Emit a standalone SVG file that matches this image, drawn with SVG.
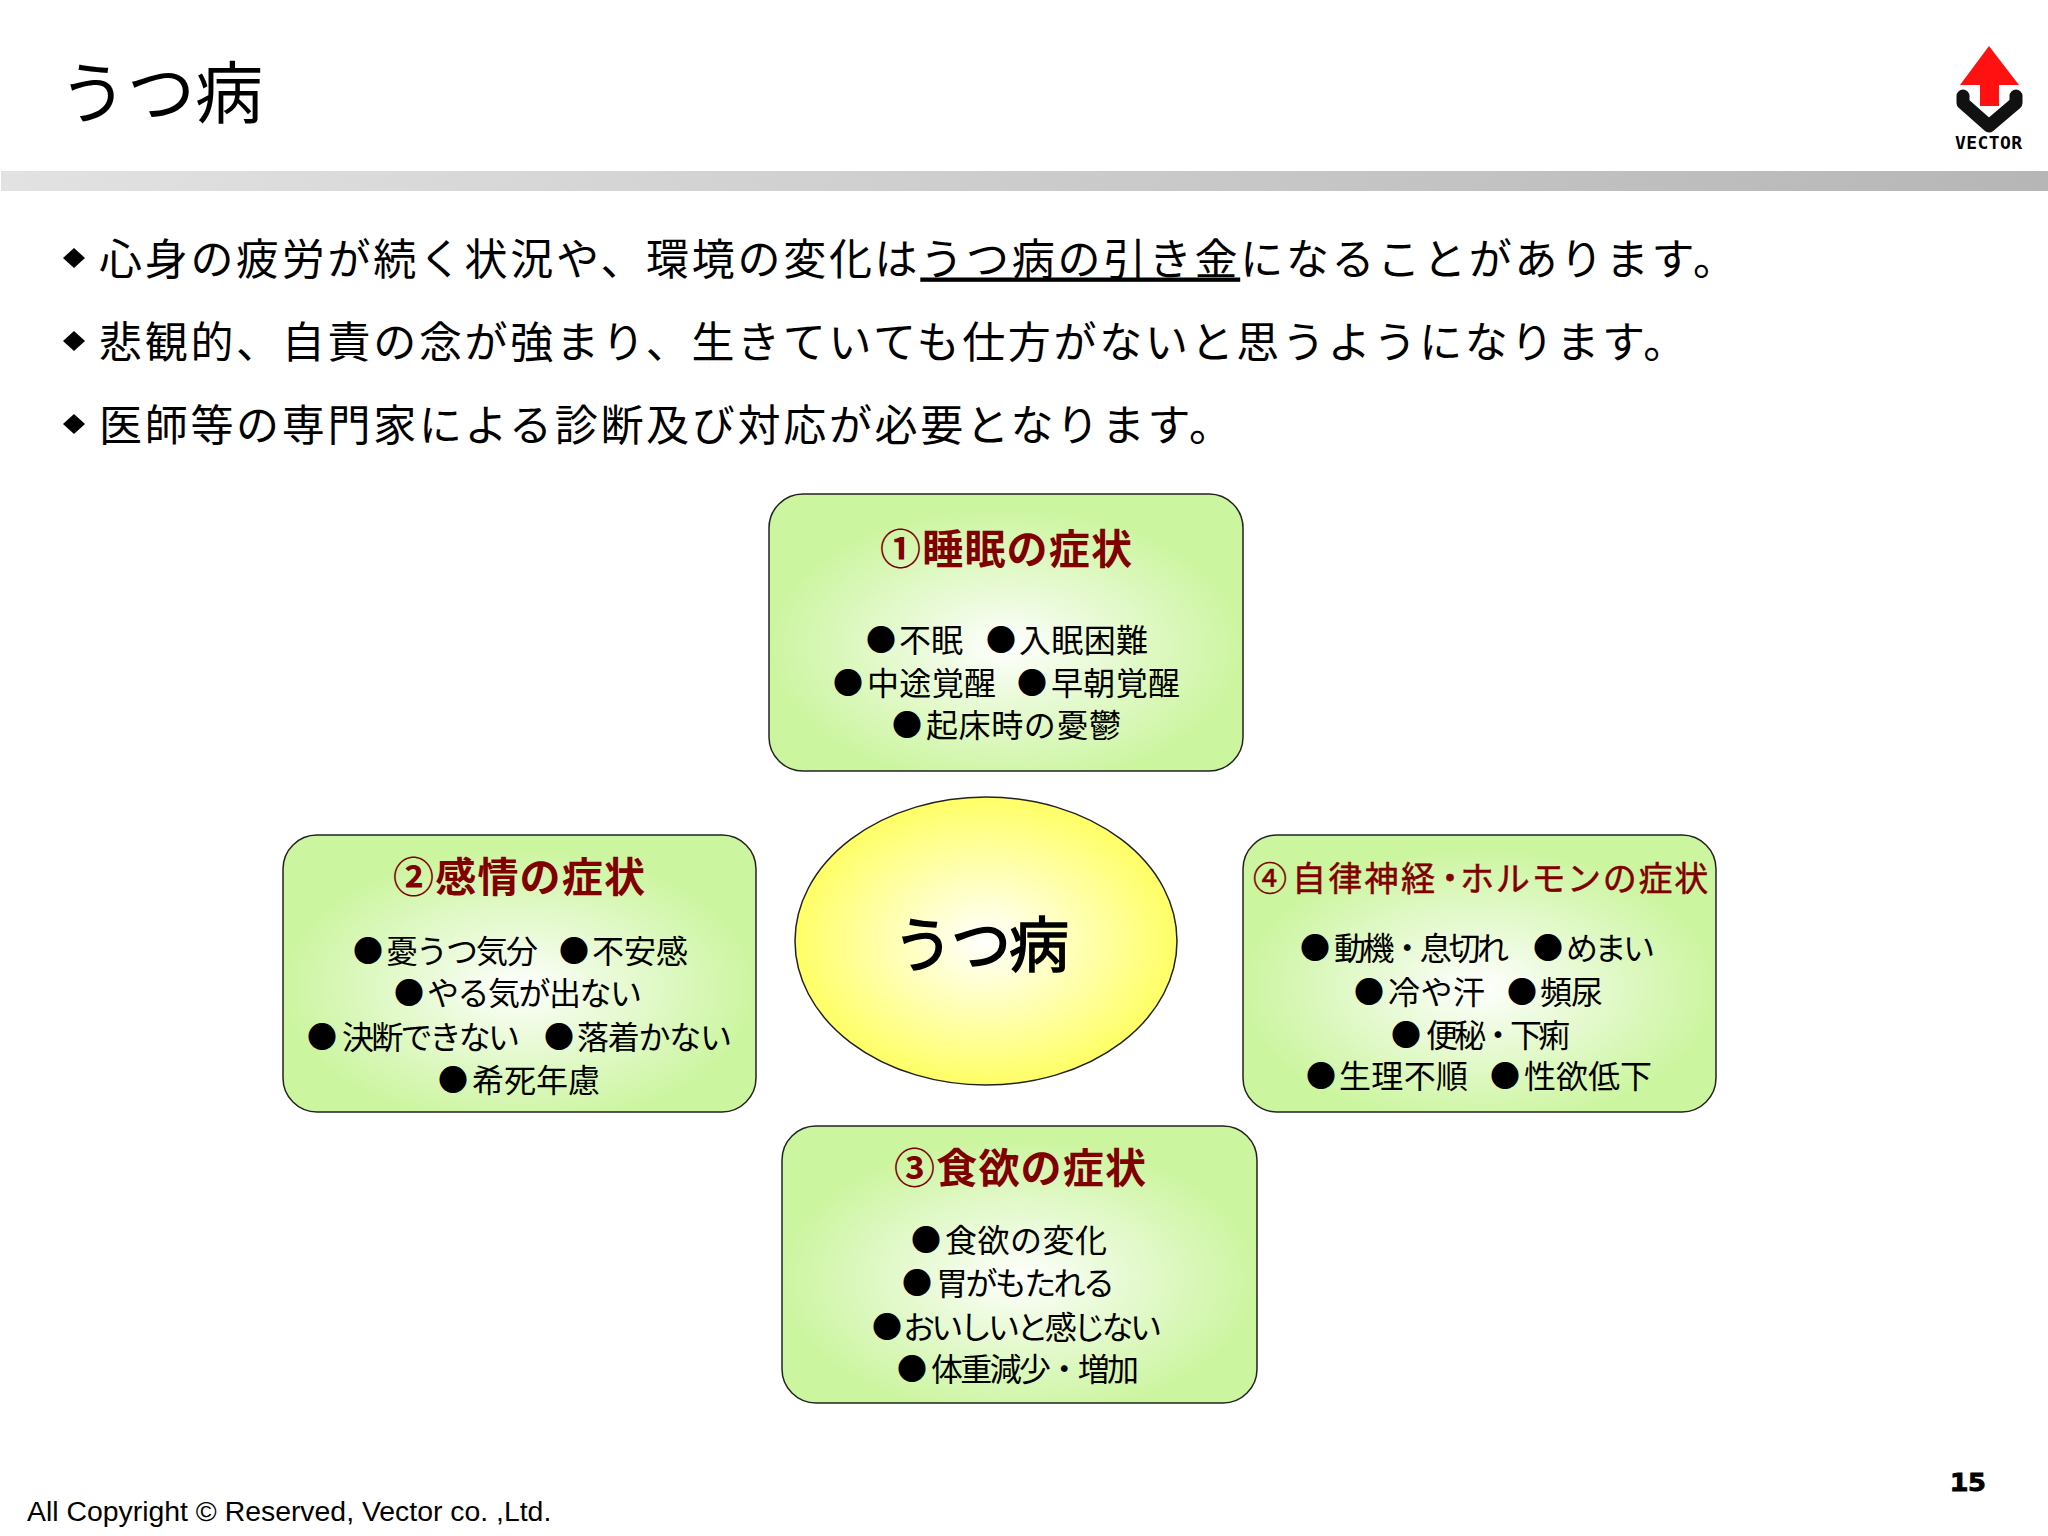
<svg xmlns="http://www.w3.org/2000/svg" width="2048" height="1536" viewBox="0 0 2048 1536">
<style>
text{font-family:"Noto Sans CJK JP","Noto Sans CJK SC","Liberation Sans",sans-serif;fill:#000}
.b{font-size:43px;letter-spacing:2.7px}
.h{font-size:41px;font-weight:700;fill:#800000}
.h4{font-size:34px;fill:#800000;stroke:#800000;stroke-width:.5px}
.i{font-size:32px}
.d{font-size:30px}
.box{stroke:#222;stroke-width:1.5;fill:url(#g)}
</style>
<defs>
<linearGradient id="bar"><stop offset="0" stop-color="#e2e2e2"/><stop offset="1" stop-color="#b6b6b6"/></linearGradient>
<radialGradient id="g" cx=".5" cy=".55" r=".5"><stop offset="0" stop-color="#fff"/><stop offset=".3" stop-color="#eefbe0"/><stop offset="1" stop-color="#ccf5a0"/></radialGradient>
<radialGradient id="y" cx=".5" cy=".5" r=".5"><stop offset="0" stop-color="#fff"/><stop offset=".25" stop-color="#ffffd8"/><stop offset="1" stop-color="#ffff66"/></radialGradient>
</defs>
<rect width="2048" height="1536" fill="#fff"/>
<text x="59" y="118" font-size="68">うつ病</text>
<rect x="1" y="171" width="2047" height="20" fill="url(#bar)"/>
<g id="logo">
<path d="M1989,46L2019,85H1999V106H1980V85H1960Z" fill="#f11"/>
<path d="M1963,96V103L1989,126L2016,103V96" fill="none" stroke="#111" stroke-width="13" stroke-linejoin="round" stroke-linecap="round"/>
<text x="1955" y="149" font-size="18" font-weight="700" textLength="67" style="font-family:'DejaVu Sans Mono',monospace">VECTOR</text>
</g>
<g id="bullets">
<path d="M74,248L85,258L74,268L63,258Z"/>
<path d="M74,331L85,341L74,351L63,341Z"/>
<path d="M74,414L85,424L74,434L63,424Z"/>
<text class="b" x="99" y="274.5">心身の疲労が続く状況や、環境の変化は<tspan text-decoration="underline">うつ病の引き金</tspan>になることがあります。</text>
<text class="b" x="99" y="357.5">悲観的、自責の念が強まり、生きていても仕方がないと思うようになります。</text>
<text class="b" x="99" y="440.5">医師等の専門家による診断及び対応が必要となります。</text>
</g>
<g id="connectors"></g>
<g id="box1">
<rect class="box" x="769" y="494" width="474" height="277" rx="34"/>
<text class="h" x="880" y="564" textLength="252">①睡眠の症状</text>
<text class="d" x="866" y="650.5">●</text><text class="i" x="899" y="652" textLength="64">不眠</text>
<text class="d" x="986" y="650.5">●</text><text class="i" x="1019" y="652" textLength="129">入眠困難</text>
<text class="d" x="833" y="693.5">●</text><text class="i" x="867" y="695" textLength="129">中途覚醒</text>
<text class="d" x="1017" y="693.5">●</text><text class="i" x="1051" y="695" textLength="129">早朝覚醒</text>
<text class="d" x="892" y="735.5">●</text><text class="i" x="926" y="737" textLength="195">起床時の憂鬱</text>
</g>
<g id="box2">
<rect class="box" x="283" y="835" width="473" height="277" rx="34"/>
<text class="h" x="393" y="892" textLength="252">②感情の症状</text>
<text class="d" x="353" y="961.5">●</text><text class="i" x="386" y="963" textLength="152">憂うつ気分</text>
<text class="d" x="559" y="961.5">●</text><text class="i" x="592" y="963" textLength="96">不安感</text>
<text class="d" x="394" y="1003.5">●</text><text class="i" x="427" y="1005" textLength="215">やる気が出ない</text>
<text class="d" x="307" y="1047.5">●</text><text class="i" x="342" y="1049" textLength="178">決断できない</text>
<text class="d" x="544" y="1047.5">●</text><text class="i" x="577" y="1049" textLength="155">落着かない</text>
<text class="d" x="438" y="1090.5">●</text><text class="i" x="472" y="1092" textLength="128">希死年慮</text>
</g>
<g id="box4">
<rect class="box" x="1243" y="835" width="473" height="277" rx="34"/>
<text class="h4" y="891"><tspan x="1253">④</tspan><tspan x="1292" letter-spacing="2.3">自律神経</tspan><tspan x="1433">・</tspan><tspan x="1460" letter-spacing="1.7">ホルモンの症状</tspan></text>
<text class="d" x="1300" y="958.5">●</text><text class="i" x="1334" y="960" textLength="175">動機・息切れ</text>
<text class="d" x="1533" y="958.5">●</text><text class="i" x="1566" y="960" textLength="89">めまい</text>
<text class="d" x="1354" y="1002.5">●</text><text class="i" x="1388" y="1004" textLength="97">冷や汗</text>
<text class="d" x="1507" y="1002.5">●</text><text class="i" x="1540" y="1004" textLength="63">頻尿</text>
<text class="d" x="1391" y="1045.5">●</text><text class="i" x="1426" y="1047" textLength="144">便秘・下痢</text>
<text class="d" x="1306" y="1086.5">●</text><text class="i" x="1339" y="1088" textLength="129">生理不順</text>
<text class="d" x="1490" y="1086.5">●</text><text class="i" x="1524" y="1088" textLength="128">性欲低下</text>
</g>
<g id="box3">
<rect class="box" x="782" y="1126" width="475" height="277" rx="34"/>
<text class="h" x="894" y="1183" textLength="252">③食欲の症状</text>
<text class="d" x="911" y="1250.5">●</text><text class="i" x="945" y="1252" textLength="162">食欲の変化</text>
<text class="d" x="902" y="1293.5">●</text><text class="i" x="936" y="1295" textLength="179">胃がもたれる</text>
<text class="d" x="872" y="1337.5">●</text><text class="i" x="903" y="1339" textLength="259">おいしいと感じない</text>
<text class="d" x="897" y="1379.5">●</text><text class="i" x="931" y="1381" textLength="208">体重減少・増加</text>
</g>
<g id="center">
<ellipse cx="986" cy="941" rx="191" ry="144" fill="url(#y)" stroke="#222" stroke-width="1.5"/>
<text x="893" y="967" font-size="60" textLength="176" stroke="#000" stroke-width="1.5">うつ病</text>
</g>
<text x="27" y="1521" font-size="28.4" style="font-family:'Liberation Sans',sans-serif">All Copyright © Reserved, Vector co. ,Ltd.</text>
<text x="1950" y="1491" font-size="25" font-weight="700" textLength="36" lengthAdjust="spacingAndGlyphs" stroke="#000" stroke-width="1" style="font-family:'DejaVu Sans Mono',monospace">15</text>
</svg>
